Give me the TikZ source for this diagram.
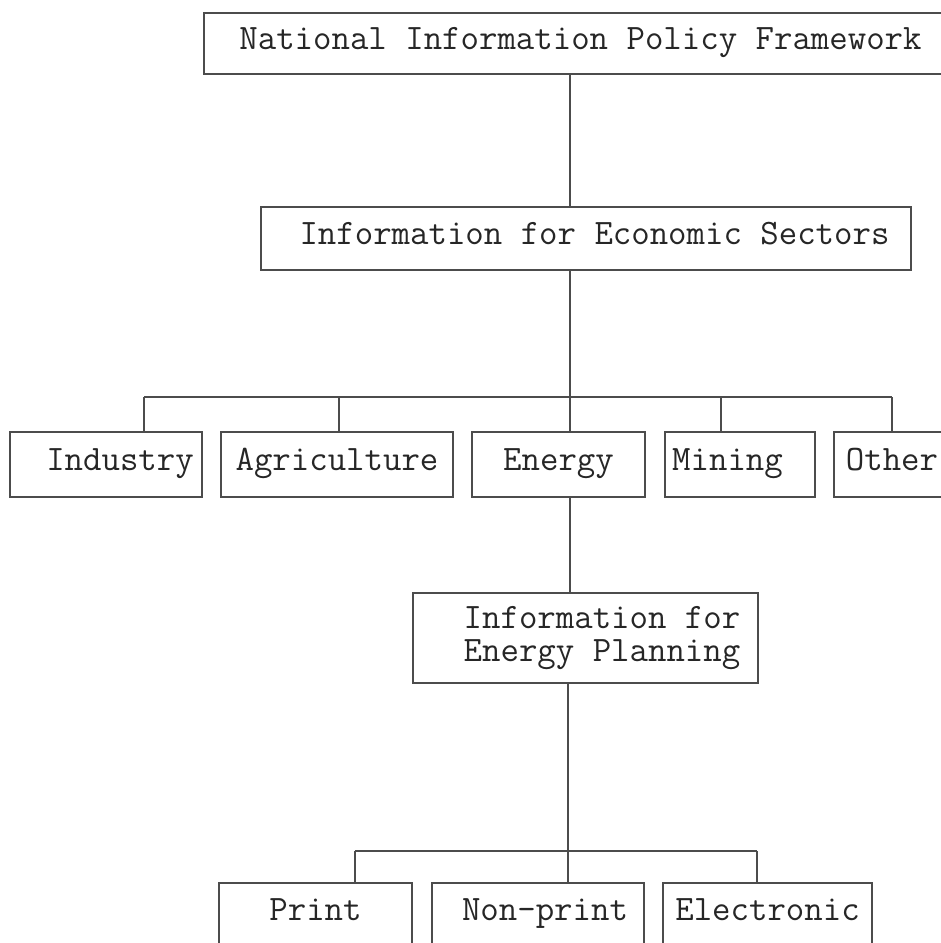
\documentclass[tikz,border=0pt]{standalone}
\usepackage{fontspec}
\tikzset{
  box/.style={draw=black!70, line width=0.6pt, inner sep=0pt, minimum height=32.5pt,
    font=\ttfamily\fontsize{17.9}{16.5}\selectfont, text=black!85},
  cell/.style={box, text height=11.1pt, text depth=5.4pt},
  link/.style={draw=black!70, line width=0.6pt},
}
\begin{document}
\begin{tikzpicture}[x=0.5pt, y=-0.5pt]
\useasboundingbox (0,0) rectangle (941,943);
\clip (0,0) rectangle (941,943);
% top levels
\node[cell, minimum width=376.5pt, minimum height=30.5pt] (policy) at (580.5,43.5)
  {National Information Policy Framework};
\node[cell, minimum width=325pt, minimum height=31.5pt] (sectors) at (586,238.5)
  {\hspace*{8.5pt}Information for Economic Sectors};
% economic sectors
\node[cell, minimum width=96pt] (industry) at (106,464.5) {\hspace*{14pt}Industry};
\node[cell, minimum width=116pt] (agri) at (337,464.5) {Agriculture};
\node[cell, minimum width=86.5pt] (energy) at (558.5,464.5) {Energy};
\node[cell, minimum width=75pt] (mining) at (740,464.5) {Mining\hspace*{12.5pt}};
\node[cell, minimum width=58pt] (other) at (892,464.5) {Other};
% energy planning
\node[box, minimum width=172.5pt, minimum height=45pt, align=left] (planning) at (585.5,638)
  {\hspace*{16.5pt}Information for\\\hspace*{16.5pt}Energy Planning};
% kinds of media
\node[cell, minimum width=96.5pt, minimum height=32pt] (print) at (315.5,915) {Print};
\node[cell, minimum width=106pt, minimum height=32pt] (nonprint) at (538,915) {\hspace*{7pt}Non-print};
\node[cell, minimum width=104.5pt, minimum height=32pt] (electronic) at (767.5,915) {Electronic};
% connectors
\foreach \n/\x in {industry/144, agri/339, energy/570, mining/721, other/892}
  \coordinate (drop-\n) at (\x,397);
\foreach \n/\x in {print/355, nonprint/568, electronic/757}
  \coordinate (drop-\n) at (\x,851);
\draw[link] (drop-energy |- policy.south) -- (drop-energy |- sectors.north);
\draw[link] (drop-energy |- sectors.south) -- (drop-energy);
\draw[link] (drop-industry) -- (drop-other);
\foreach \n in {industry, agri, energy, mining, other}
  \draw[link] (drop-\n) -- (drop-\n |- \n.north);
\draw[link] (drop-energy |- energy.south) -- (drop-energy |- planning.north);
\draw[link] (drop-nonprint |- planning.south) -- (drop-nonprint);
\draw[link] (drop-print) -- (drop-electronic);
\foreach \n in {print, nonprint, electronic}
  \draw[link] (drop-\n) -- (drop-\n |- \n.north);
\end{tikzpicture}
\end{document}
